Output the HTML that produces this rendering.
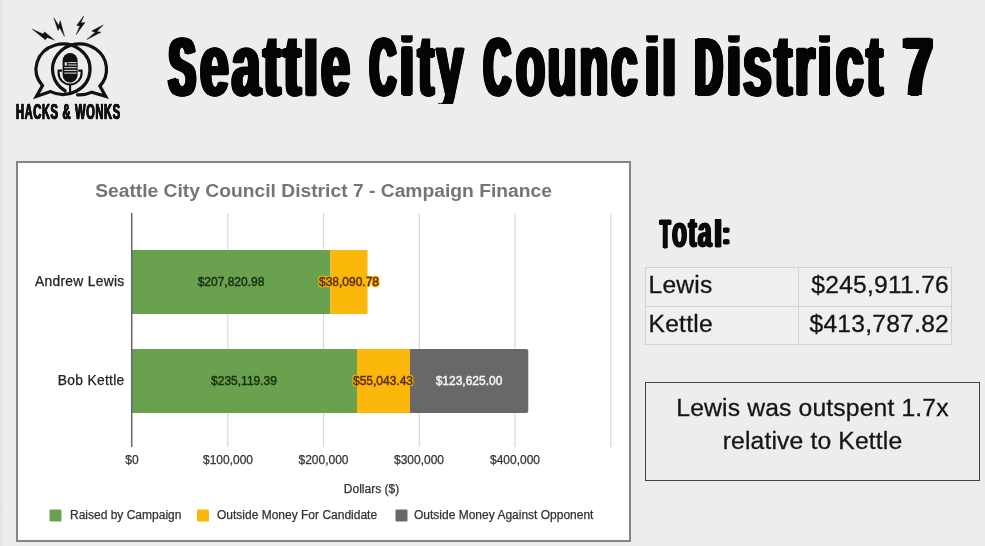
<!DOCTYPE html>
<html lang="en">
<head>
<meta charset="utf-8">
<title>Seattle City Council District 7</title>
<style>
  html, body { margin: 0; padding: 0; }
  body {
    width: 985px; height: 546px; overflow: hidden; position: relative;
    background: linear-gradient(to right, #dedede 0, #e8e8e8 2px, #ededed 5px) #ededed;
    font-family: "Liberation Sans", sans-serif;
    color: #111;
  }
  .abs { position: absolute; white-space: nowrap; }

  /* ---------- headline ---------- */
  .hl { position: absolute; left: 0; top: 0; margin: 0; padding: 0; font-size: 0; line-height: 0; white-space: nowrap; font-weight: normal; }
  .hw {
    position: relative; display: inline-block; width: 0; vertical-align: top; top: 0; height: 130px; line-height: 130px;
    font-weight: bold; color: #050505;
    transform-origin: 0 0; white-space: nowrap;
    -webkit-text-stroke: 2px #050505;
    letter-spacing: 5px;
  }
  .hw.c { font-size: 81px; top: 1.8px; text-shadow: 1px 0px 0 #050505, -1px 0px 0 #050505, 2px 0px 0 #050505, -2px 0px 0 #050505, 3px 0px 0 #050505, -3px 0px 0 #050505, 4px 0px 0 #050505, -4px 0px 0 #050505, 5px 0px 0 #050505, -5px 0px 0 #050505, 5.5px 0px 0 #050505, -5.5px 0px 0 #050505; }
  .hw.l { font-size: 87px; top: -0.4px; clip-path: inset(38.9px -500px 25.6px -20px); text-shadow: 1px 0px 0 #050505, -1px 0px 0 #050505, 2px 0px 0 #050505, -2px 0px 0 #050505, 3px 0px 0 #050505, -3px 0px 0 #050505, 3.5px 0px 0 #050505, -3.5px 0px 0 #050505; }
  .hw.i { font-size: 86px; top: 0px; clip-path: inset(35.2px -500px 26px -20px); text-shadow: 1px 0px 0 #050505, -1px 0px 0 #050505, 2px 0px 0 #050505, -2px 0px 0 #050505, 3px 0px 0 #050505, -3px 0px 0 #050505, 3.5px 0px 0 #050505, -3.5px 0px 0 #050505, 0px -1.5px 0 #050505, 1px -1.5px 0 #050505, -1px -1.5px 0 #050505, 2px -1.5px 0 #050505, -2px -1.5px 0 #050505, 3px -1.5px 0 #050505, -3px -1.5px 0 #050505, 3.5px -1.5px 0 #050505, -3.5px -1.5px 0 #050505, 0px -3px 0 #050505, 1px -3px 0 #050505, -1px -3px 0 #050505, 2px -3px 0 #050505, -2px -3px 0 #050505, 3px -3px 0 #050505, -3px -3px 0 #050505, 3.5px -3px 0 #050505, -3.5px -3px 0 #050505; }

  /* ---------- logo ---------- */
  #logo { position: absolute; left: 0; top: 0; width: 140px; height: 130px; }
  .brand {
    position: absolute; left: 16px; top: 98.8px; height: 26px; line-height: 26px;
    font-weight: bold; font-size: 22px; color: #111;
    transform-origin: 0 0; transform: scaleX(0.505); white-space: nowrap;
    -webkit-text-stroke: 0.7px #111;
    text-shadow: 0.8px 0 0 #111, -0.8px 0 0 #111;
    letter-spacing: 1.2px; word-spacing: 0.5px;
  }

  /* ---------- chart card ---------- */
  #card {
    position: absolute; left: 16px; top: 161px; width: 611px; height: 377px;
    border: 2px solid #858585; background: #fff;
  }
  #chart { position: absolute; left: 0; top: 0; width: 985px; height: 546px; }
  .ctitle {
    position: absolute; left: 16px; width: 615px; top: 176.5px; text-align: center;
    font-weight: bold; font-size: 19.25px; line-height: 28px; color: #757575;
  }
  .lbl { position: absolute; font-size: 12px; line-height: 16px; color: #222; white-space: nowrap; -webkit-text-stroke: 0.25px currentColor; }
  .cat { text-align: right; width: 110px; left: 14.5px; font-size: 13.8px; letter-spacing: 0.3px; color: #222; -webkit-text-stroke: 0.25px #222; }
  .tick { width: 100px; text-align: center; top: 452px; font-size: 12px; color: #333; }
  .val { width: 120px; text-align: center; font-size: 12px; color: #17300f; -webkit-text-stroke: 0.45px currentColor; }
  .leg { top: 507px; font-size: 12px; color: #333; }

  /* ---------- right side ---------- */
  .tt {
    position: relative; display: inline-block; width: 0; vertical-align: top; top: 200px; height: 60px; line-height: 60px;
    font-weight: bold; color: #0a0a0a;
    transform-origin: 0 0; white-space: nowrap;
    -webkit-text-stroke: 1px #0a0a0a;
    letter-spacing: 2.5px;
    text-shadow: 1px 0 0 #0a0a0a, -1px 0 0 #0a0a0a, 2px 0 0 #0a0a0a, -2px 0 0 #0a0a0a;
  }
  .tt.c { font-size: 40px; top: 204.1px; text-shadow: 1px 0 0 #0a0a0a, -1px 0 0 #0a0a0a, 2px 0 0 #0a0a0a, -2px 0 0 #0a0a0a, 3px 0 0 #0a0a0a, -3px 0 0 #0a0a0a; }
  .tt.l { font-size: 45px; top: 202.4px; clip-path: inset(16.5px -300px 0 -10px); }
  .tt.k { font-size: 31.7px; top: 203px; }
  table#tot {
    position: absolute; left: 645px; top: 267px; border-collapse: collapse;
    font-size: 24.6px; letter-spacing: 0.25px; color: #151515; background: #efefef;
  }
  table#tot td { border: 1px solid #d2d2d2; height: 37.5px; padding: 0; line-height: 34.5px; vertical-align: top; -webkit-text-stroke: 0.3px #151515; }
  table#tot td.n { width: 149.5px; padding-left: 2.5px; }
  table#tot td.v { width: 150px; text-align: right; padding-right: 2px; }
  #note {
    position: absolute; left: 645px; top: 381.5px; width: 335px; height: 99px;
    border: 1.5px solid #444; box-sizing: border-box;
    text-align: center; font-size: 24.7px; letter-spacing: 0.15px; line-height: 33px; color: #151515;
    padding-top: 8px; -webkit-text-stroke: 0.3px #151515;
  }
</style>
</head>
<body>

<!-- logo -->
<svg id="logo" viewBox="0 0 140 130">
  <g fill="none" stroke="#111" stroke-width="3.2" stroke-linejoin="miter" stroke-linecap="round">
    <path d="M 42.5 85.6 A 27 25.2 0 1 1 50.6 91.6 L 36.4 96.4 Z"/>
    <path d="M 77.6 94.8 A 27 25.5 0 0 0 91.8 92.1 L 105.6 96.4 L 99.9 86.1 A 27 25.5 0 1 0 65.2 91.0"/>
  </g>
  <!-- mic -->
  <rect x="62.6" y="53" width="15" height="29.4" rx="7.5" fill="#111"/>
  <g stroke="#e4e4e4" stroke-width="1">
    <line x1="68.2" y1="62.6" x2="76.6" y2="62.6"/>
    <line x1="68.2" y1="65" x2="76.6" y2="65"/>
    <line x1="64.2" y1="67.7" x2="76.6" y2="67.7"/>
    <line x1="64.2" y1="70.4" x2="76.6" y2="70.4"/>
    <line x1="64.2" y1="73.1" x2="76.6" y2="73.1"/>
  </g>
  <rect x="64.6" y="62.2" width="2.6" height="3.4" fill="#cfcfcf"/>
  <path d="M 57.6 70.6 L 62 70.6 M 78.2 70.6 L 82.6 70.6 M 58.6 70.6 L 58.6 73 A 11.5 11.5 0 0 0 81.6 73 L 81.6 70.6 M 70.1 84.5 L 70.1 93.5" fill="none" stroke="#111" stroke-width="2.1"/>
  <!-- bolts -->
  <g fill="#111" stroke="#111" stroke-width="0.5">
    <path d="M 32.4 29.2 L 42.9 34 L 44.7 31.9 L 54.3 40 L 47.2 37.4 L 45.4 39.8 Z"/>
    <path d="M 53.9 18 L 58.7 25.4 L 60.3 20.8 L 64.4 36.3 L 59.6 27.6 L 58 30.4 Z"/>
    <path d="M 83.6 16.2 L 80.8 23.1 L 84.9 22.6 L 76.3 34.5 L 79.9 25.8 L 76.7 25.4 Z"/>
    <path d="M 103.2 24.9 L 91.8 31 L 95.4 32.2 L 86.8 39.5 L 100.9 32.2 L 96.8 31.6 Z"/>
  </g>
</svg>
<div class="brand">HACKS &amp; WONKS</div>

<!-- headline -->
<h1 class="hl"><span class="w"><span class="hw c" style="left:169.0px; transform:scaleX(0.485);">S</span><span class="hw l" style="left:200.0px; transform:scaleX(0.594);">eattle</span></span> <span class="w"><span class="hw c" style="left:370.0px; transform:scaleX(0.440);">C</span><span class="hw i" style="left:400.0px; transform:scaleX(0.580);">i</span><span class="hw l" style="left:417.5px; transform:scaleX(0.546);">ty</span></span> <span class="w"><span class="hw c" style="left:484.0px; transform:scaleX(0.453);">C</span><span class="hw l" style="left:515.5px; transform:scaleX(0.545);">ounc</span><span class="hw i" style="left:644.5px; transform:scaleX(0.592);">i</span><span class="hw l" style="left:662.0px; transform:scaleX(0.592);">l</span></span> <span class="w"><span class="hw c" style="left:694.5px; transform:scaleX(0.470);">D</span><span class="hw i" style="left:726.5px; transform:scaleX(0.580);">i</span><span class="hw l" style="left:742.5px; transform:scaleX(0.592);">str</span><span class="hw i" style="left:818.0px; transform:scaleX(0.552);">i</span><span class="hw l" style="left:835.5px; transform:scaleX(0.569);">ct</span></span> <span class="w"><span class="hw c" style="left:903.5px; transform:scaleX(0.615);">7</span></span></h1>

<!-- chart -->
<div id="card"></div>
<svg id="chart" viewBox="0 0 985 546">
  <g stroke="#d9d9d9" stroke-width="1.2">
    <line x1="227.8" y1="213" x2="227.8" y2="447"/>
    <line x1="323.5" y1="213" x2="323.5" y2="447"/>
    <line x1="419.3" y1="213" x2="419.3" y2="447"/>
    <line x1="515" y1="213" x2="515" y2="447"/>
    <line x1="610.8" y1="213" x2="610.8" y2="447"/>
  </g>
  <rect x="132" y="250" width="198.5" height="64" fill="#6aa14f"/>
  <rect x="330.5" y="250" width="37" height="64" fill="#fbb70a"/>
  <rect x="132" y="349" width="225" height="64" fill="#6aa14f"/>
  <rect x="357" y="349" width="53" height="64" fill="#fbb70a"/>
  <path d="M 410 349 H 526.3 Q 528.3 349 528.3 351 V 411 Q 528.3 413 526.3 413 H 410 Z" fill="#686868"/>
  <line x1="131.7" y1="213" x2="131.7" y2="447" stroke="#666" stroke-width="1.5"/>
  <rect x="49.5" y="509.5" width="12" height="12" rx="1.2" fill="#6aa14f"/>
  <rect x="197" y="509.5" width="12" height="12" rx="1.2" fill="#fbb70a"/>
  <rect x="395.5" y="509.5" width="12" height="12" rx="1.2" fill="#686868"/>
</svg>
<div class="ctitle">Seattle City Council District 7 - Campaign Finance</div>
<div class="lbl cat" style="top:273.8px;">Andrew Lewis</div>
<div class="lbl cat" style="top:373px;">Bob Kettle</div>
<div class="lbl val" style="left:171px; top:273.5px;">$207,820.98</div>
<div class="lbl val" style="left:289px; top:273.5px; color:#5c2e00; text-shadow:1px 0 1px #fbb70a,-1px 0 1px #fbb70a,0 1px 1px #fbb70a,0 -1px 1px #fbb70a,1px 1px 1px #fbb70a,-1px -1px 1px #fbb70a,1px -1px 1px #fbb70a,-1px 1px 1px #fbb70a;">$38,090.78</div>
<div class="lbl val" style="left:184px; top:372.5px;">$235,119.39</div>
<div class="lbl val" style="left:323px; top:372.5px; color:#5c2e00; text-shadow:1px 0 1px #fbb70a,-1px 0 1px #fbb70a,0 1px 1px #fbb70a,0 -1px 1px #fbb70a,1px 1px 1px #fbb70a,-1px -1px 1px #fbb70a,1px -1px 1px #fbb70a,-1px 1px 1px #fbb70a;">$55,043.43</div>
<div class="lbl val" style="left:409px; top:372.5px; color:#f4f4f4;">$123,625.00</div>
<div class="lbl tick" style="left:82px;">$0</div>
<div class="lbl tick" style="left:178px;">$100,000</div>
<div class="lbl tick" style="left:273.5px;">$200,000</div>
<div class="lbl tick" style="left:369px;">$300,000</div>
<div class="lbl tick" style="left:465px;">$400,000</div>
<div class="lbl" style="left:321.5px; width:100px; text-align:center; top:480.5px; color:#333;">Dollars ($)</div>
<div class="lbl leg" style="left:70px;">Raised by Campaign</div>
<div class="lbl leg" style="left:217px;">Outside Money For Candidate</div>
<div class="lbl leg" style="left:414px;">Outside Money Against Opponent</div>

<!-- totals -->
<!-- total -->
<h2 class="hl"><span class="tt c" style="left:660.0px; transform:scaleX(0.428);">T</span><span class="tt l" style="left:672.0px; transform:scaleX(0.547);">ota</span><span class="tt l" style="left:714.0px; transform:scaleX(0.660);">l</span><span class="tt k" style="left:722.0px; transform:scaleX(0.806);">:</span></h2>
<!-- /total -->
<table id="tot">
  <tr><td class="n">Lewis</td><td class="v">$245,911.76</td></tr>
  <tr><td class="n">Kettle</td><td class="v">$413,787.82</td></tr>
</table>
<div id="note">Lewis was outspent 1.7x<br>relative to Kettle</div>

</body>
</html>
